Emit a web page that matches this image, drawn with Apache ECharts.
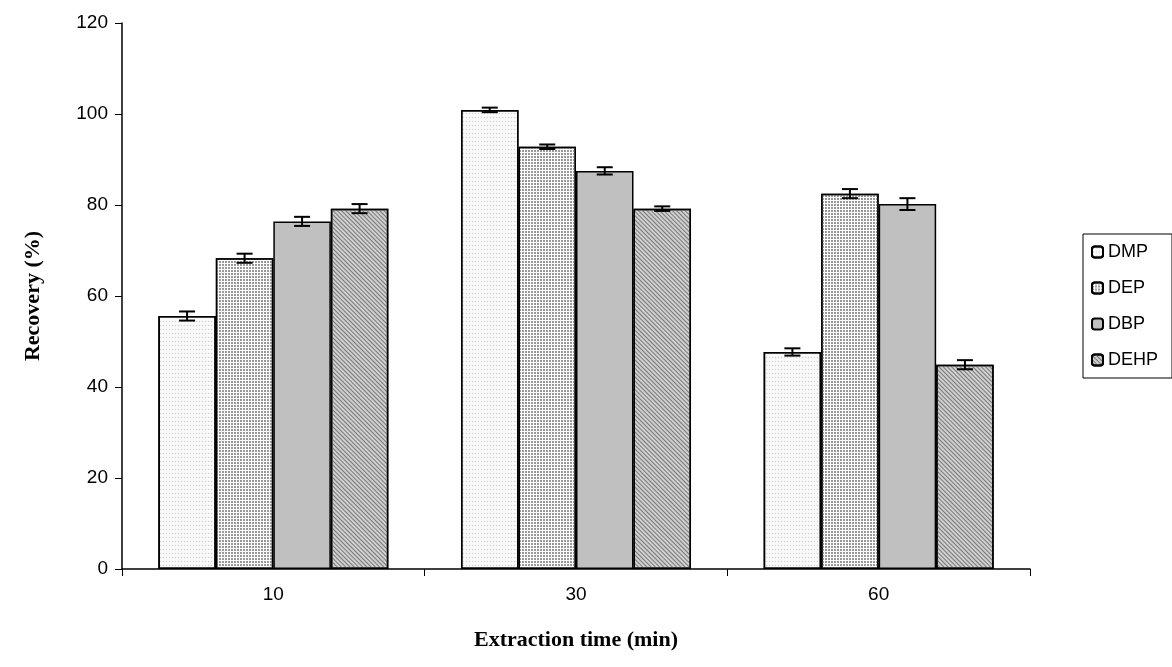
<!DOCTYPE html>
<html><head><meta charset="utf-8">
<script src="https://cdn.jsdelivr.net/npm/echarts@6/dist/echarts.min.js"></script>
<style>html,body{margin:0;padding:0;background:#fff}#chart{width:1172px;height:667px}</style>
</head><body><div id="chart"></div>
<script>
var categories = ['10', '30', '60'];
var seriesNames = ['DMP', 'DEP', 'DBP', 'DEHP'];
var dmp = [55.6, 100.9, 47.7];
var dep = [68.3, 92.8, 82.5];
var dbp = [76.4, 87.5, 80.2];
var dehp = [79.2, 79.2, 44.9];
var dmpErr = [1.0, 0.5, 0.8];
var depErr = [1.0, 0.5, 1.0];
var dbpErr = [1.0, 0.8, 1.3];
var dehpErr = [1.0, 0.5, 1.0];

var values = [dmp, dep, dbp, dehp];
var errs = [dmpErr, depErr, dbpErr, dehpErr];
var catGap = 0.24;

var styles = [
  {color: '#fafafa', decal: {symbol: 'circle', symbolSize: 0.5, color: 'rgba(170,170,170,0.5)', dashArrayX: [3, 0], dashArrayY: [3, 1]}},
  {color: '#ffffff', decal: {symbol: 'rect', symbolSize: 1, color: '#999', dashArrayX: [2, 1], dashArrayY: [2, 1]}},
  {color: '#c0c0c0'},
  {color: '#d0d0d0', decal: {symbol: 'rect', symbolSize: 1, color: '#777', dashArrayX: [1, 0], dashArrayY: [1, 2], rotation: Math.PI / 4}}
];

var series = [];
seriesNames.forEach(function (name, i) {
  series.push({
    name: name, type: 'bar', data: values[i], barGap: '0%', barCategoryGap: '24%',
    itemStyle: {color: styles[i].color, decal: styles[i].decal, borderColor: '#000', borderWidth: 1.5}
  });
});
seriesNames.forEach(function (name, i) {
  series.push({
    type: 'custom', silent: true, z: 10,
    data: values[i].map(function (v, j) { return [j, v, errs[i][j]]; }),
    renderItem: function (params, api) {
      var j = api.value(0), v = api.value(1), e = api.value(2);
      var groupW = api.size([1, 0])[0] * (1 - catGap);
      var bw = groupW / 4;
      var c = api.coord([j, v]);
      var x = c[0] - groupW / 2 + (i + 0.5) * bw;
      var top = api.coord([j, v + e])[1];
      var bot = api.coord([j, v - e])[1];
      var st = {stroke: '#000', lineWidth: 2};
      return {type: 'group', children: [
        {type: 'line', shape: {x1: x, y1: top, x2: x, y2: bot}, style: st},
        {type: 'line', shape: {x1: x - 8, y1: top, x2: x + 8, y2: top}, style: st},
        {type: 'line', shape: {x1: x - 8, y1: bot, x2: x + 8, y2: bot}, style: st}
      ]};
    }
  });
});

var chart = echarts.init(document.getElementById('chart'));
chart.setOption({
  animation: false,
  grid: {left: 122, right: 142, top: 23, bottom: 98},
  legend: {
    data: seriesNames, orient: 'vertical', left: 1083, top: 234,
    itemWidth: 11, itemHeight: 11, itemGap: 18, padding: [9, 14, 9, 8],
    borderColor: '#000', borderWidth: 1,
    textStyle: {fontFamily: 'Liberation Sans', fontSize: 18, color: '#000'}
  },
  xAxis: {
    type: 'category', data: categories,
    name: 'Extraction time (min)', nameLocation: 'middle', nameGap: 60,
    nameTextStyle: {fontFamily: 'Liberation Serif', fontWeight: 'bold', fontSize: 22, color: '#000'},
    axisLine: {lineStyle: {color: '#000', width: 1.5}},
    axisTick: {show: true, length: 7, lineStyle: {color: '#000'}},
    axisLabel: {fontFamily: 'Liberation Sans', fontSize: 19, color: '#000', margin: 16}
  },
  yAxis: {
    type: 'value', min: 0, max: 120, interval: 20,
    name: 'Recovery (%)', nameLocation: 'middle', nameGap: 78,
    nameTextStyle: {fontFamily: 'Liberation Serif', fontWeight: 'bold', fontSize: 22, color: '#000'},
    axisLine: {show: true, lineStyle: {color: '#000', width: 1.5}},
    axisTick: {show: true, length: 7, inside: false, lineStyle: {color: '#000'}},
    splitLine: {show: false},
    axisLabel: {fontFamily: 'Liberation Sans', fontSize: 19, color: '#000', margin: 14}
  },
  series: series
});
</script></body></html>
